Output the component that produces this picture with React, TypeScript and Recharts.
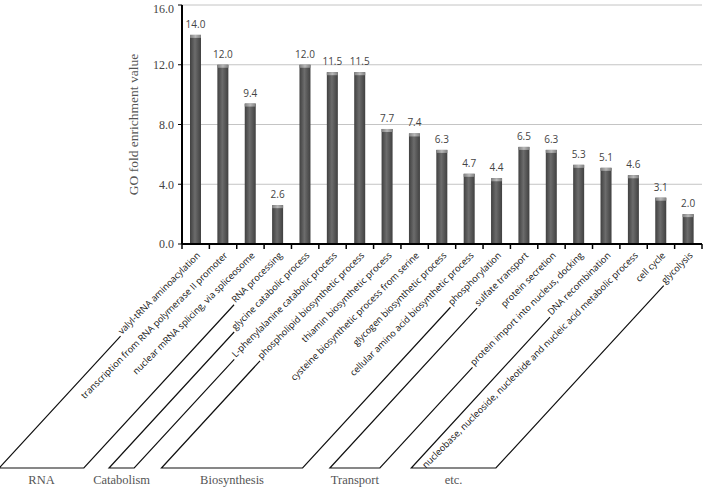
import React from 'react';
import { Bar, BarChart, CartesianGrid, LabelList, XAxis, YAxis } from 'recharts';

const categories = [
  'valyl-tRNA aminoacylation',
  'transcription from RNA polymerase II promoter',
  'nuclear mRNA splicing, via spliceosome',
  'RNA processing',
  'glycine catabolic process',
  'L-phenylalanine catabolic process',
  'phospholipid biosynthetic process',
  'thiamin biosynthetic process',
  'cysteine biosynthetic process from serine',
  'glycogen biosynthetic process',
  'cellular amino acid biosynthetic process',
  'phosphorylation',
  'sulfate transport',
  'protein secretion',
  'protein import into nucleus, docking',
  'DNA recombination',
  'nucleobase, nucleoside, nucleotide and nucleic acid metabolic process',
  'cell cycle',
  'glycolysis',
];
const values = [14.0, 12.0, 9.4, 2.6, 12.0, 11.5, 11.5, 7.7, 7.4, 6.3, 4.7, 4.4, 6.5, 6.3, 5.3, 5.1, 4.6, 3.1, 2.0];
const groupNames = ['RNA', 'Catabolism', 'Biosynthesis', 'Transport', 'etc.'];
const groupSizes = [4, 2, 6, 3, 4];
const yTicks = [0, 4, 8, 12, 16];

const data = categories.map((name, i) => ({ name, value: values[i] }));
const groupStarts = groupSizes.map((_, i) => groupSizes.slice(0, i).reduce((a, b) => a + b, 0));

const W = 708;
const H = 488;
const Y_AXIS_W = 182;
const X_AXIS_H = 244;
const MARGIN = { top: 5, right: 6, bottom: 0, left: 0 };
const BAND = (W - Y_AXIS_W - MARGIN.right) / categories.length;
const LABEL_FONT_SIZE = 9.2;
const LABEL_FONT = `${LABEL_FONT_SIZE}px "Open Sans"`;
const BRACKET_Y = 468;
const SLANT = 0.92;
const serif = '"Liberation Serif", "Times New Roman", serif';
const sans = '"Open Sans", "Noto Sans", sans-serif';

let ctx: CanvasRenderingContext2D | null = null;
function textWidth(s: string) {
  if (!ctx) ctx = document.createElement('canvas').getContext('2d');
  if (!ctx) return s.length * 4.4;
  ctx.font = LABEL_FONT;
  return ctx.measureText(s).width;
}

function CategoryTick(props: any) {
  const { x, y, payload, index } = props;
  const dx = 5;
  const dy = 12;
  const ay = y + dy;

  // bottom-left end of the rotated label of category i
  const labelStart = (i: number) => {
    const cx = x + (i - index) * BAND + dx;
    const L = textWidth(categories[i]) + 2;
    return [cx - L * Math.SQRT1_2, ay + L * Math.SQRT1_2];
  };

  const gi = groupStarts.indexOf(index);
  let bracket = null;
  if (gi >= 0) {
    const last = index + groupSizes[gi] - 1;
    const [x1, y1] = labelStart(index);
    const [x2, y2] = labelStart(last);
    const b1 = x1 - (BRACKET_Y - y1) * SLANT;
    const b2 = x2 - (BRACKET_Y - y2) * SLANT;
    bracket = (
      <g>
        <polyline
          points={`${x1},${y1} ${b1},${BRACKET_Y} ${b2},${BRACKET_Y} ${x2},${y2}`}
          fill="none"
          stroke="#111"
          strokeWidth={1.2}
        />
        <text x={(b1 + b2) / 2} y={484} textAnchor="middle" fontFamily={serif} fontSize={12.5} fill="#555">
          {groupNames[gi]}
        </text>
      </g>
    );
  }

  return (
    <g>
      <line x1={x - BAND / 2} x2={x - BAND / 2} y1={y} y2={y + 5} stroke="#000" strokeWidth={1.5} />
      {index === categories.length - 1 && (
        <line x1={x + BAND / 2} x2={x + BAND / 2} y1={y} y2={y + 5} stroke="#000" strokeWidth={1.5} />
      )}
      <text
        x={x + dx}
        y={ay}
        textAnchor="end"
        transform={`rotate(-45 ${x + dx} ${ay})`}
        fontFamily={sans}
        fontSize={LABEL_FONT_SIZE}
        fill="#111"
      >
        {payload.value}
      </text>
      {bracket}
    </g>
  );
}

function CylinderBar(props: any) {
  const { x, y, width, height } = props;
  if (!height || height <= 0) return null;
  return (
    <g>
      <rect x={x} y={y} width={width} height={height} fill="url(#barGrad)" />
      <rect x={x} y={y} width={width} height={Math.min(3, height)} fill="url(#capGrad)" />
    </g>
  );
}

function YLabel(props: any) {
  const { viewBox } = props;
  const cx = 133;
  const cy = viewBox.y + viewBox.height / 2;
  return (
    <text
      x={cx}
      y={cy}
      textAnchor="middle"
      dominantBaseline="central"
      transform={`rotate(-90 ${cx} ${cy})`}
      fontFamily={serif}
      fontSize={13.5}
      fill="#555"
    >
      GO fold enrichment value
    </text>
  );
}

export default function App() {
  return (
    <div style={{ position: 'absolute', left: 0, top: 0, background: '#fff' }}>
      <BarChart width={W} height={H} data={data} margin={MARGIN}>
        <defs>
          <linearGradient id="barGrad" x1="0" y1="0" x2="1" y2="0">
            <stop offset="0%" stopColor="#404040" />
            <stop offset="45%" stopColor="#6c6c6c" />
            <stop offset="100%" stopColor="#404040" />
          </linearGradient>
          <linearGradient id="capGrad" x1="0" y1="0" x2="1" y2="0">
            <stop offset="0%" stopColor="#808080" />
            <stop offset="50%" stopColor="#b8b8b8" />
            <stop offset="100%" stopColor="#808080" />
          </linearGradient>
        </defs>
        <CartesianGrid vertical={false} stroke="#c4c4c4" />
        <XAxis
          dataKey="name"
          interval={0}
          height={X_AXIS_H}
          axisLine={{ stroke: '#000', strokeWidth: 2 }}
          tickLine={false}
          tickSize={0}
          tickMargin={0}
          tick={<CategoryTick />}
        />
        <YAxis
          width={Y_AXIS_W}
          domain={[0, 16]}
          ticks={yTicks}
          tickFormatter={(v: number) => v.toFixed(1)}
          axisLine={{ stroke: '#000', strokeWidth: 2 }}
          tickLine={{ stroke: '#000' }}
          tickSize={4}
          tickMargin={4}
          tick={{ fontFamily: serif, fontSize: 12, fill: '#444' }}
          label={<YLabel />}
        />
        <Bar dataKey="value" barSize={11} shape={<CylinderBar />} isAnimationActive={false}>
          <LabelList
            dataKey="value"
            position="top"
            offset={7}
            formatter={(v: any) => Number(v).toFixed(1)}
            style={{ fontFamily: sans, fontSize: 10, fill: '#444' }}
          />
        </Bar>
      </BarChart>
    </div>
  );
}
